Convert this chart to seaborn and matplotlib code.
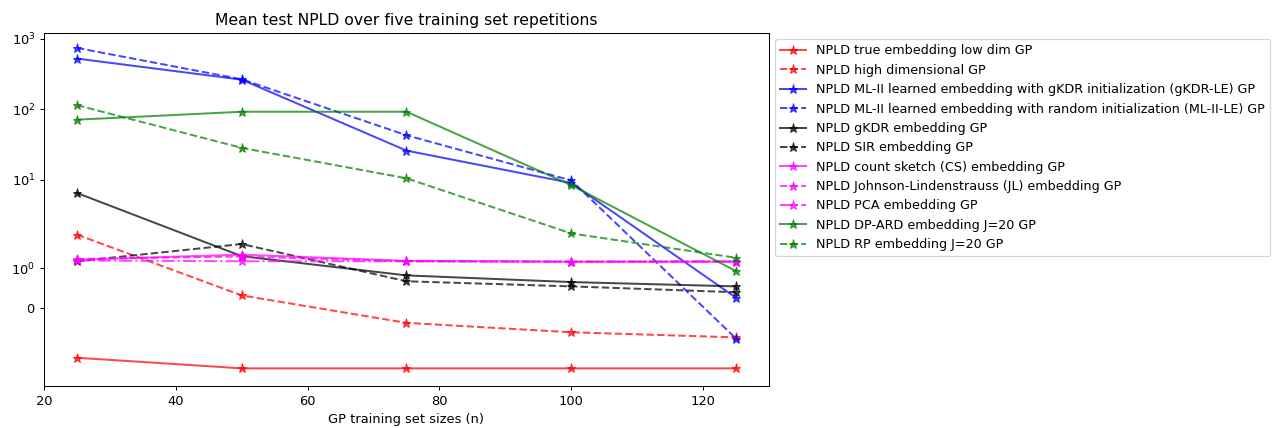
import numpy as np
import pandas as pd
import matplotlib
matplotlib.use("Agg")
import matplotlib.pyplot as plt
from matplotlib.ticker import NullLocator
import seaborn as sns

# ---- data ----
sizes = [25, 50, 75, 100, 125]
true_low_dim = [-1.28, -1.55, -1.55, -1.55, -1.55]
high_dim = [1.86, 0.31, -0.39, -0.63, -0.76]
gkdr_le = [521, 262, 25.9, 9.0, 0.25]
ml2_le = [738, 265, 42.7, 9.8, -0.79]
gkdr = [6.5, 1.31, 0.82, 0.65, 0.54]
sir = [1.18, 1.62, 0.67, 0.54, 0.39]
cs = [1.22, 1.35, 1.19, 1.17, 1.17]
jl = [1.24, 1.30, 1.18, 1.17, 1.17]
pca = [1.20, 1.18, 1.18, 1.17, 1.18]
dp_ard = [71, 92, 92, 8.4, 0.93]
rp = [114, 28.3, 10.5, 1.89, 1.27]

labels = [
    "NPLD true embedding low dim GP",
    "NPLD high dimensional GP",
    "NPLD ML-II learned embedding with gKDR initialization (gKDR-LE) GP",
    "NPLD ML-II learned embedding with random initialization (ML-II-LE) GP",
    "NPLD gKDR embedding GP",
    "NPLD SIR embedding GP",
    "NPLD count sketch (CS) embedding GP",
    "NPLD Johnson-Lindenstrauss (JL) embedding GP",
    "NPLD PCA embedding GP",
    "NPLD DP-ARD embedding J=20 GP",
    "NPLD RP embedding J=20 GP",
]
series = [true_low_dim, high_dim, gkdr_le, ml2_le, gkdr, sir, cs, jl, pca, dp_ard, rp]
colors = ["red", "red", "blue", "blue", "black", "black",
          "magenta", "magenta", "magenta", "green", "green"]
styles = ["-", "--", "-", "--", "-", "--", "-", "--", "-.", "-", "--"]

rows = []
for lab, vals in zip(labels, series):
    for n, v in zip(sizes, vals):
        rows.append({"n": n, "npld": v, "method": lab})
df = pd.DataFrame(rows)

DPI = 90
plt.rcParams["font.family"] = ["DejaVu Sans"]
fig = plt.figure(figsize=(1278 / DPI, 428 / DPI), dpi=DPI)
ax = fig.add_axes([44 / 1278, 42 / 428, 725 / 1278, 353 / 428])

for lab, col, ls in zip(labels, colors, styles):
    sub = df[df["method"] == lab]
    sns.lineplot(data=sub, x="n", y="npld", ax=ax, color=col, linestyle=ls,
                 marker="*", markersize=7.5, markeredgecolor=col,
                 markerfacecolor=col, markeredgewidth=0.8, alpha=0.72,
                 linewidth=1.6, label=lab)

ax.set_yscale("symlog", linthresh=2, linscale=1)
ax.set_ylim(-2, 1200)
ax.set_yticks([0, 1, 10, 100, 1000],
              [r"$\mathdefault{0}$", r"$\mathdefault{10^{0}}$", r"$\mathdefault{10^{1}}$",
               r"$\mathdefault{10^{2}}$", r"$\mathdefault{10^{3}}$"])
ax.yaxis.set_minor_locator(NullLocator())
ax.set_xlim(20, 130)
ax.set_xticks([20, 40, 60, 80, 100, 120])
ax.set_xlabel("GP training set sizes (n)", fontsize=10.4)
ax.set_ylabel("")
ax.set_title("Mean test NPLD over five training set repetitions", fontsize=12.5)
ax.tick_params(labelsize=10.4)

ax.legend(loc="upper left", bbox_to_anchor=(1.0, 1.0), fontsize=10.2, frameon=True)

fig.savefig("out.png", dpi=DPI)
